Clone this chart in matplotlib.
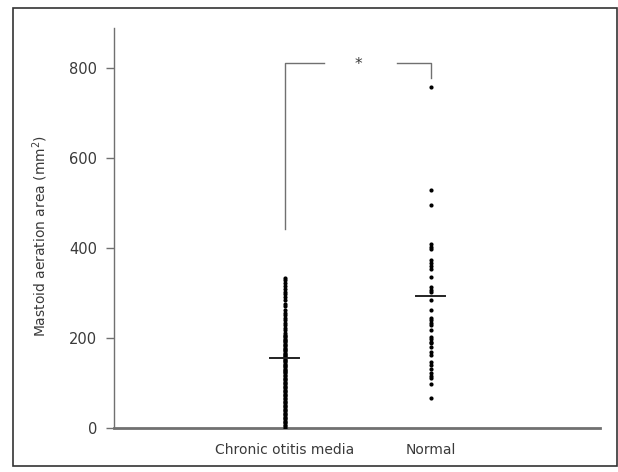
import matplotlib
matplotlib.use("Agg")
import matplotlib.pyplot as plt
from matplotlib.patches import Rectangle

# groups and values (mm^2)
groups = ["Chronic otitis media", "Normal"]
com_values = [334, 328, 322, 316, 309, 303, 297, 291, 284, 276, 271, 263, 256,
              251, 245, 239, 234, 229, 223, 217, 212, 207,
              204, 201, 198, 195, 193, 190, 187, 184, 181, 178, 176, 173, 170,
              167, 165, 162, 160, 157, 154, 151, 149, 146, 143, 140, 138, 135,
              132, 129, 126, 124, 121, 118, 115, 112, 109, 106, 103, 100, 97,
              94, 91, 88, 85, 82, 79, 76, 73, 70, 67, 64, 61, 58, 55, 52, 49,
              46, 43, 40, 37, 34, 31, 28, 25, 22, 19, 16, 13, 10, 7, 4, 1]
normal_values = [758, 529, 496, 408, 402, 397, 374, 366, 359, 352, 336, 313,
                 307, 302, 284, 263, 245, 239, 233, 228, 217, 201, 197, 192,
                 188, 180, 169, 162, 147, 140, 132, 121, 116, 110, 98, 66]
group_means = [156, 294]
yticks = [0, 200, 400, 600, 800]

text_color = "#3a3a3a"
axis_color = "#707070"
plt.rcParams["font.family"] = ["DejaVu Sans"]

fig = plt.figure(figsize=(6.18, 4.72), dpi=100)
ax = fig.add_axes([114 / 618, 44 / 472, (600 - 114) / 618, 400 / 472])

xpos = [1, 2]
for x, vals in zip(xpos, [com_values, normal_values]):
    ax.scatter([x] * len(vals), vals, s=9, color="black", zorder=3, linewidths=0)
for x, m in zip(xpos, group_means):
    ax.plot([x - 0.1, x + 0.1], [m, m], color="#222222", lw=1.4, zorder=4)

# significance bracket
ax.plot([1, 1, 1.27], [441, 811, 811], color=axis_color, lw=1, clip_on=False)
ax.plot([1.77, 2, 2], [811, 811, 776], color=axis_color, lw=1, clip_on=False)
ax.text(1.507, 806, "*", ha="center", va="center", fontsize=11, color=text_color)

ax.set_xlim(-0.17, 3.16)
ax.set_ylim(0, 888)
ax.set_yticks(yticks)
ax.set_xticks([1, 2])
ax.set_xticklabels(groups)
ax.tick_params(axis="x", length=0, pad=11, labelsize=10, colors=text_color)
ax.tick_params(axis="y", length=6, width=1, pad=6, labelsize=10.5,
               colors=axis_color, labelcolor=text_color)

for s in ["top", "right"]:
    ax.spines[s].set_visible(False)
ax.spines["left"].set_color(axis_color)
ax.spines["left"].set_linewidth(1)
ax.spines["bottom"].set_color(axis_color)
ax.spines["bottom"].set_linewidth(2)

fig.text(40 / 618, 1 - 236 / 472, "Mastoid aeration area (mm$^2$)", rotation=90,
         ha="center", va="center", fontsize=10, color=text_color)

# outer frame
fig.patches.append(Rectangle((13 / 618, 6 / 472), (617 - 13) / 618, (465 - 7) / 472,
                             transform=fig.transFigure, fill=False,
                             edgecolor="#333333", lw=1.2))

fig.savefig("out.png", dpi=100)
